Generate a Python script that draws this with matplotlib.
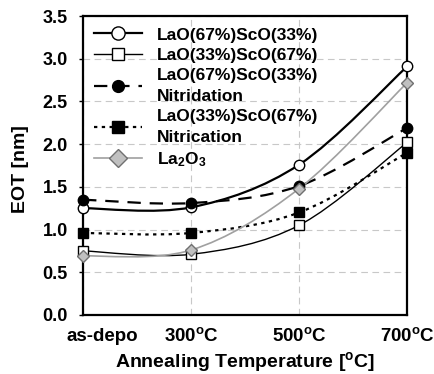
import matplotlib
matplotlib.use("Agg")
import matplotlib.pyplot as plt
from matplotlib.path import Path
from matplotlib.patches import PathPatch
from matplotlib.lines import Line2D

plt.rcParams['font.family'] = ['Liberation Sans', 'DejaVu Sans']
plt.rcParams['font.weight'] = 'bold'
plt.rcParams['mathtext.fontset'] = 'custom'
plt.rcParams['mathtext.rm'] = 'Liberation Sans:bold'
plt.rcParams['mathtext.bf'] = 'Liberation Sans:bold'
plt.rcParams['mathtext.default'] = 'bf'

# data
temps = ["as-depo", "300$^\\mathregular{o}$C", "500$^\\mathregular{o}$C", "700$^\\mathregular{o}$C"]
lao67 = [1.25, 1.26, 1.76, 2.91]
lao33 = [0.75, 0.71, 1.05, 2.02]
lao67_n = [1.35, 1.31, 1.51, 2.19]
lao33_n = [0.96, 0.96, 1.20, 1.90]
la2o3 = [0.69, 0.76, 1.48, 2.72]

labels = ["LaO(67%)ScO(33%)", "LaO(33%)ScO(67%)",
          "LaO(67%)ScO(33%)\nNitridation", "LaO(33%)ScO(67%)\nNitrication",
          "La$_2$O$_3$"]
yticks = [0, 0.5, 1.0, 1.5, 2.0, 2.5, 3.0, 3.5]


# smoothed line like a spreadsheet "smooth line" (cubic bezier through points)
def smooth_path(xs, ys):
    pts = list(zip(xs, ys))
    n = len(pts)
    verts = [pts[0]]
    codes = [Path.MOVETO]
    for i in range(n - 1):
        p0 = pts[max(i - 1, 0)]
        p1 = pts[i]
        p2 = pts[i + 1]
        p3 = pts[min(i + 2, n - 1)]
        c1 = (p1[0] + (p2[0] - p0[0]) / 6, p1[1] + (p2[1] - p0[1]) / 6)
        c2 = (p2[0] - (p3[0] - p1[0]) / 6, p2[1] - (p3[1] - p1[1]) / 6)
        verts += [c1, c2, p2]
        codes += [Path.CURVE4] * 3
    return Path(verts, codes)


fig = plt.figure(figsize=(4.35, 3.74), dpi=100)
ax = fig.add_axes([0.191, 0.158, 0.745, 0.799])

# line / marker styles; lms = legend marker size
styles = [
    dict(color="black", lw=1.6, ls="-", marker="o", mfc="white", mec="black", ms=7.5, lms=9.5),
    dict(color="black", lw=1.0, ls="-", marker="s", mfc="white", mec="black", ms=7.5, lms=8.5),
    dict(color="black", lw=1.6, ls=(0, (6, 4)), marker="o", mfc="black", mec="black", ms=7.5, lms=8.5),
    dict(color="black", lw=1.6, ls=(0, (1.5, 2)), marker="s", mfc="black", mec="black", ms=7.5, lms=9),
    dict(color="#a0a0a0", lw=1.2, ls="-", marker="D", mfc="#c0c0c0", mec="#707070", ms=6, lms=9),
]
series = [lao67, lao33, lao67_n, lao33_n, la2o3]
xs = list(range(len(temps)))

handles = []
for ys, st, lab in zip(series, styles, labels):
    patch = PathPatch(smooth_path(xs, ys), fill=False, edgecolor=st["color"],
                      lw=st["lw"], linestyle=st["ls"], zorder=3, clip_on=False)
    ax.add_patch(patch)
    ax.plot(xs, ys, linestyle="none", marker=st["marker"], mfc=st["mfc"],
            mec=st["mec"], ms=st["ms"], mew=1.0, zorder=4, clip_on=False)
    handles.append(Line2D([], [], color=st["color"], lw=st["lw"], ls=st["ls"],
                          marker=st["marker"], mfc=st["mfc"], mec=st["mec"],
                          ms=st["lms"], mew=1.0, label=lab))

ax.set_xlim(0, 3)
ax.set_ylim(0, 3.5)
ax.set_xticks(xs)
ax.set_xticklabels([])
for x, t in zip(xs, temps):
    # first label is pushed right so it does not run off the left side
    if x == 0:
        ax.text(x - 0.15, -0.087, t, transform=ax.get_xaxis_transform(), ha="left",
                va="baseline", fontsize=13.5, fontweight="bold")
    else:
        ax.text(x, -0.087, t, transform=ax.get_xaxis_transform(), ha="center",
                va="baseline", fontsize=13.5, fontweight="bold")
ax.set_yticks(yticks)
ax.set_yticklabels(["%.1f" % v for v in yticks], fontsize=13, fontweight="bold")
ax.tick_params(axis="x", length=0)
ax.tick_params(axis="y", length=3, width=1, direction="out", pad=8)
ax.grid(True, color="#c8c8c8", lw=0.8, ls=(0, (6, 4)), zorder=0)
for s in ax.spines.values():
    s.set_linewidth(1.6)

fig.text(21 / 435, 1 - 169 / 374, "EOT [nm]", rotation=90, ha="center",
         va="center", fontsize=14, fontweight="bold")
ax.text(0.5, -0.175, "Annealing Temperature [$^\\mathregular{o}$C]",
        transform=ax.transAxes, ha="center", va="baseline", fontsize=14,
        fontweight="bold")

leg = ax.legend(handles=handles, loc="upper left", frameon=False,
                prop=dict(size=12.5, weight="bold"),
                handlelength=2.76, handletextpad=0.86, labelspacing=0.3,
                borderaxespad=0.5, borderpad=0.15)
for t in leg.get_texts():
    t.set_linespacing(1.5)

fig.savefig("out.png", dpi=100)
